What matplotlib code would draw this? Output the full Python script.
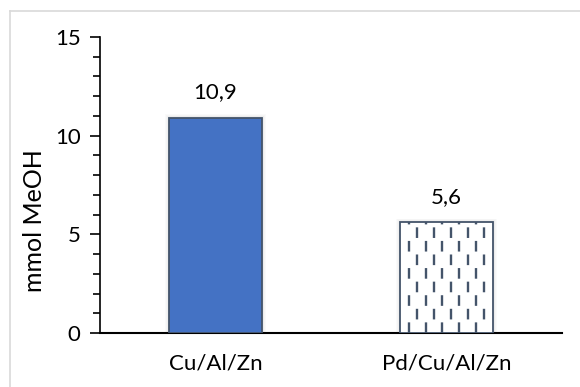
import matplotlib
matplotlib.use("Agg")
import matplotlib.pyplot as plt
from matplotlib.lines import Line2D
from matplotlib.ticker import MultipleLocator

categories = ["Cu/Al/Zn", "Pd/Cu/Al/Zn"]
values = [10.9, 5.6]
labels = ["10,9", "5,6"]
yticks = [0, 5, 10, 15]

plt.rcParams['font.family'] = ['Lato', 'DejaVu Sans']

W, H = 580, 387
FS = 16
fig = plt.figure(figsize=(W / 100, H / 100), dpi=100)
ax = fig.add_axes([100 / W, 1 - 333 / H, 462 / W, (333 - 37) / H])

# chart-area border (top and left visible)
fig.add_artist(Line2D([9.5 / W, 1.0], [1 - 10.5 / H, 1 - 10.5 / H], color="#D9D9D9", lw=1.2, transform=fig.transFigure))
fig.add_artist(Line2D([9.5 / W, 9.5 / W], [0, 1 - 10.5 / H], color="#D9D9D9", lw=1.2, transform=fig.transFigure))

x = list(range(len(categories)))
bw = 0.4
edge = "#44546A"
px = 1 / 231.0  # data units per pixel on x

# soft shadows
for i in range(1, 6):
    ax.bar(x, [v + 0.04 * i for v in values], width=bw + 2 * i * px * 0.9, color="#808080",
           alpha=0.035, linewidth=0, zorder=1)

bars = ax.bar(x, values, width=bw, color=["#4472C4", "white"], edgecolor=edge,
              linewidth=1.3, zorder=3)

# dashed vertical hatch in second bar
b = bars[1]
bx, bwid, bh = b.get_x(), b.get_width(), b.get_height()
on, off = 4.5, 7.0
for k in range(10):
    xx = bx + (k + 1) * bwid / 11
    ls = (0, (on, off)) if k % 2 == 0 else ((on + off) / 2, (on, off))
    ln = ax.vlines(xx, 0, bh, colors=edge, linestyles=[ls], linewidth=1.7, zorder=4)
    ln.set_clip_path(b)

for xi, v, lab in zip(x, values, labels):
    ax.annotate(lab, (xi, v), xytext=(0, 14), textcoords="offset points",
                ha="center", va="baseline", fontsize=FS, color="#000000")

ax.set_xlim(-0.5, 1.5)
ax.set_ylim(0, 15)
ax.set_yticks(yticks)
ax.set_yticklabels([str(t) for t in yticks])
ax.yaxis.set_minor_locator(MultipleLocator(1))
ax.set_xticks(x)
ax.set_xticklabels(categories)
ax.tick_params(axis="y", which="major", length=7, width=1.2, pad=7, labelsize=FS, direction="out")
ax.tick_params(axis="y", which="minor", length=5, width=1.2, direction="out")
ax.tick_params(axis="x", length=0, pad=15, labelsize=FS)
for s in ["top", "right"]:
    ax.spines[s].set_visible(False)
ax.spines["left"].set_linewidth(1.2)
ax.spines["bottom"].set_linewidth(1.5)
ax.set_ylabel("mmol MeOH", fontsize=18)
ax.yaxis.label.set_va("center")
ax.yaxis.set_label_coords(-66 / 462, (333 - 221) / 296)

fig.savefig("out.png", dpi=100)
